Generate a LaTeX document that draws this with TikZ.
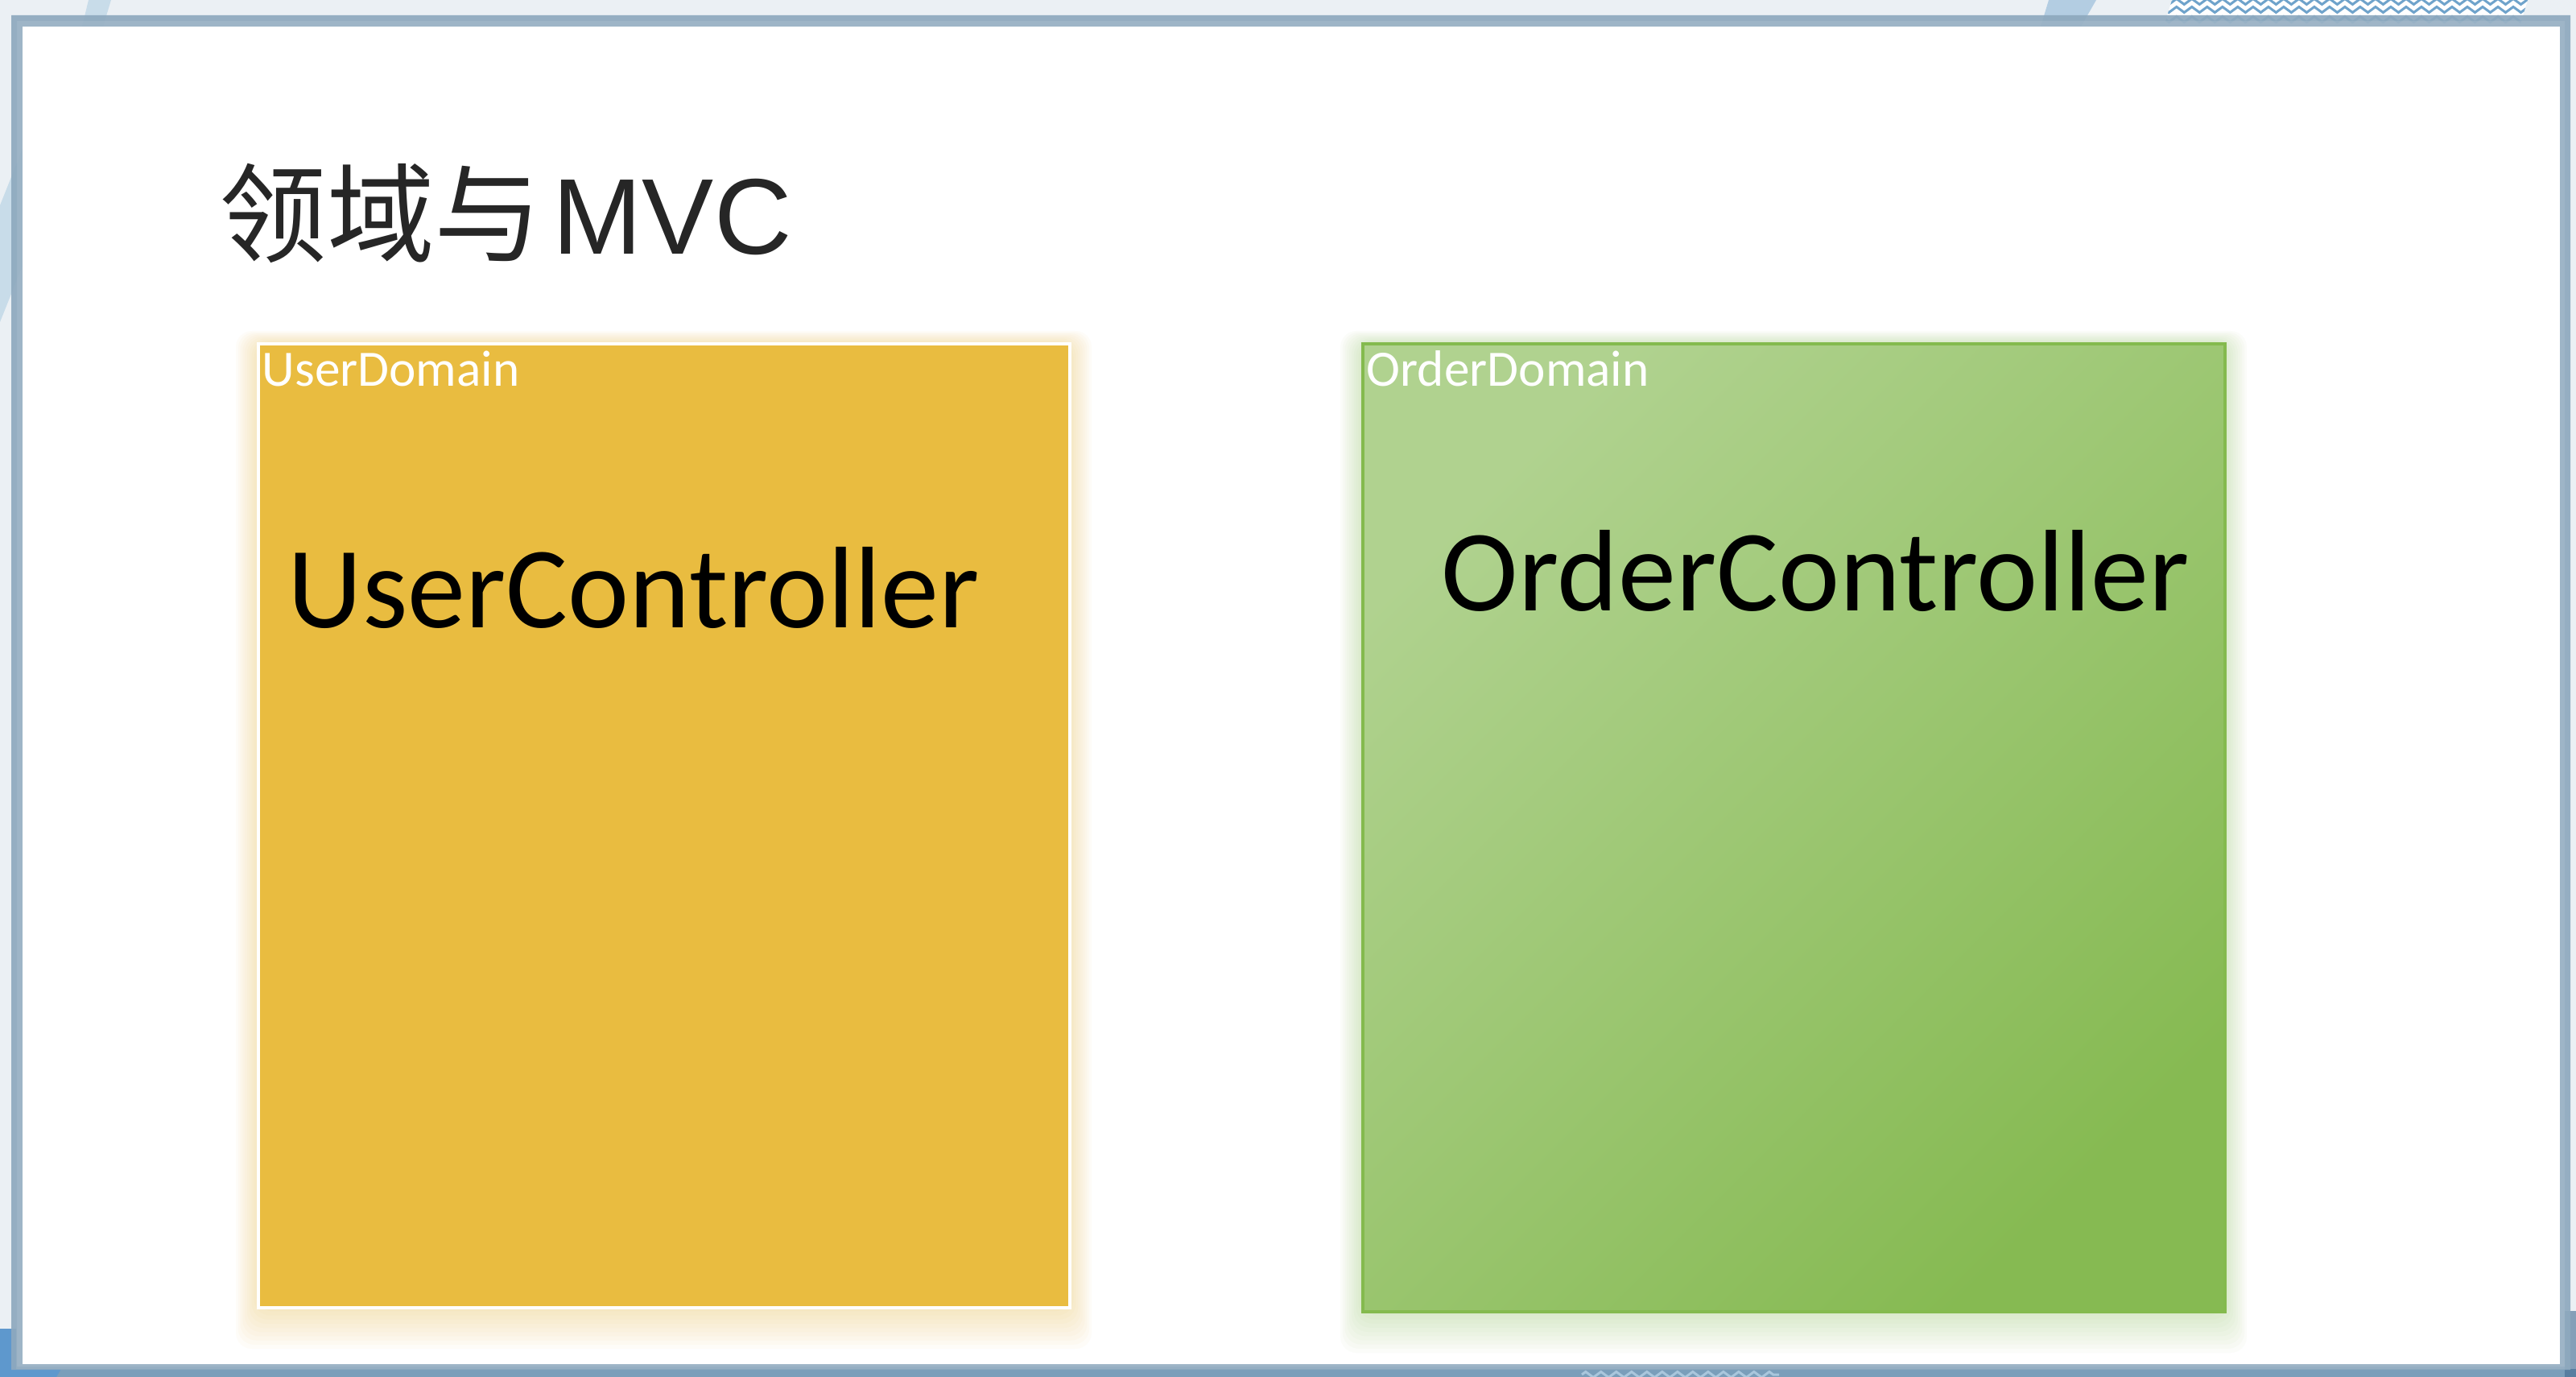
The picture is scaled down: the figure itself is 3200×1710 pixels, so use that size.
\documentclass[tikz,border=0pt]{standalone}
\usepackage{fontspec}
\setmainfont{Carlito}
\newfontfamily\cjkfont{Noto Sans CJK SC}
\newfontfamily\latinhead{Liberation Sans}
\usetikzlibrary{positioning, calc, decorations.pathmorphing}

\definecolor{slidebg}{HTML}{EBF0F4}
\definecolor{frameouter}{HTML}{8EA9BE}
\definecolor{frameinner}{HTML}{9AB2C5}
\definecolor{stripblue}{HTML}{7A9EBA}
\definecolor{deepblue}{HTML}{5E98CD}
\definecolor{paleblue}{HTML}{C8DCE9}
\definecolor{softblue}{HTML}{B3CDE2}
\definecolor{zigblue}{HTML}{6FA3CB}
\definecolor{ziglight}{HTML}{A9C6DC}
\definecolor{titlegray}{HTML}{262626}
\definecolor{useryellow}{HTML}{E9BC40}
\definecolor{orderlight}{HTML}{B0D28F}
\definecolor{orderdark}{HTML}{86BA52}
\definecolor{orderline}{HTML}{84BA4E}

\begin{document}
\begin{tikzpicture}[
  x=0.01cm, y=-0.01cm,
  domainbox/.style = {rectangle, anchor=north west, inner sep=0pt, outer sep=0pt},
  userdom/.style   = {domainbox, fill=useryellow, draw=white, line width=0.04cm,
                      minimum width=10.07cm, minimum height=11.96cm},
  orderdom/.style  = {domainbox, draw=orderline, line width=0.04cm,
                      top color=orderlight, bottom color=orderdark, shading angle=45,
                      minimum width=10.70cm, minimum height=12.01cm},
  tag/.style       = {anchor=base west, inner sep=0pt, text=white,
                      font=\fontsize{18}{20}\selectfont},
  ctrl/.style      = {anchor=base west, inner sep=0pt, text=black,
                      font=\fontsize{41}{45}\selectfont},
  headline/.style  = {anchor=base west, inner sep=0pt, text=titlegray,
                      font=\fontsize{38}{41}\selectfont},
  zig/.style       = {decorate, decoration={zigzag, amplitude=0.035cm, segment length=0.19cm}}
]
  \useasboundingbox (0,0) rectangle (3200,1710);

  %% Slide background and frame
  \fill[slidebg] (0,0) rectangle (3200,1710);
  \fill[stripblue] (0,1700) rectangle (3200,1710);
  \draw[ziglight, line width=0.03cm, zig] (1965,1707) -- (2210,1707);
  \fill[deepblue] (0,1650) -- (20,1650) -- (20,1700) -- (76,1700) -- (70,1710) -- (0,1710) -- cycle;
  \fill[deepblue!70!black, opacity=0.6] (3186,1628) rectangle (3200,1710);
  \fill[paleblue] (110,0) -- (138,0) -- (128,33) -- (102,33) -- cycle;
  \fill[paleblue] (0,255) -- (28,185) -- (28,330) -- (0,400) -- cycle;
  \fill[softblue] (2545,0) -- (2604,0) -- (2585,33) -- (2535,33) -- cycle;
  \begin{scope}
    \clip (2698,0) -- (3140,0) -- (3130,33) -- (2688,33) -- cycle;
    \fill[white] (2680,0) rectangle (3150,33);
    \foreach \row in {2,12,24}
      \draw[zigblue, line width=0.03cm, zig] (2680,\row) -- (3150,\row);
  \end{scope}
  \fill[frameouter, opacity=0.92, even odd rule]
    (14,19) rectangle (3193,1701) (21,26) rectangle (3186,1697);
  \fill[frameinner, opacity=0.95, even odd rule]
    (21,26) rectangle (3186,1697) (28,33) rectangle (3180,1694);
  \fill[white] (28,33) rectangle (3180,1694);

  %% Title
  \node[headline] (title) at (272,316) {\cjkfont 领域与\kern0.13cm\latinhead MVC};

  %% Soft glow behind the two domains
  \foreach \s in {40,36,...,4} {
    \fill[useryellow, opacity=0.035, rounded corners=0.2cm]
      (321-0.7*\s,427-0.4*\s) rectangle (1328+0.7*\s,1623+1.3*\s);
    \fill[orderdark, opacity=0.03, rounded corners=0.2cm]
      (1693-0.7*\s,427-0.4*\s) rectangle (2763+0.7*\s,1628+1.3*\s);
  }

  %% Domains
  \node[userdom]  (user)  at (321,427)  {};
  \node[orderdom] (order) at (1693,427) {};

  \node[tag]  (usertag)  at (325,480)  {UserDomain};
  \node[tag]  (ordertag) at (1697,480) {OrderDomain};

  \node[ctrl] (userctrl)  at (357,780)  {UserController};
  \node[ctrl] (orderctrl) at (1790,759) {OrderController};
\end{tikzpicture}
\end{document}
